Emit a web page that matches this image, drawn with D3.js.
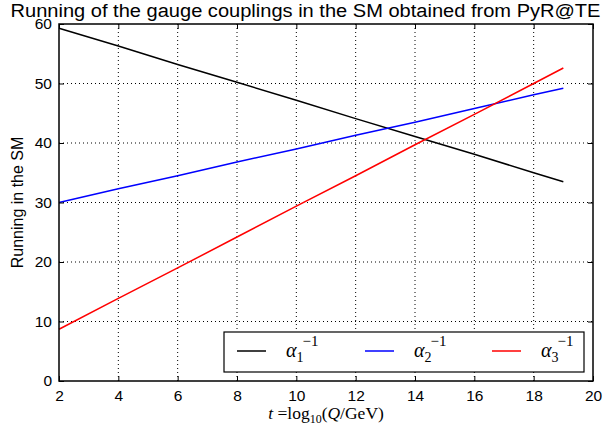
<!DOCTYPE html>
<html>
<head>
<meta charset="utf-8">
<script src="https://cdn.jsdelivr.net/npm/d3@7"></script>
<style>
  html, body { margin: 0; padding: 0; background: #fff; }
  svg { display: block; }
  .tick-label { font-family: "Liberation Sans", Arial, sans-serif; font-size: 15.5px; fill: #000; }
  .math { font-family: "Liberation Serif", "DejaVu Serif", serif; }
</style>
</head>
<body>
<svg id="chart" width="608" height="434"></svg>
<script>
// Scale t = log10(Q/GeV) and inverse gauge couplings
const tValues = [2, 4, 6, 8, 10, 12, 14, 16, 18, 19];
const alpha1Inv = [59.3, 56.3, 53.2, 50.2, 47.2, 44.1, 41.1, 38.1, 35.0, 33.5];
const alpha2Inv = [30.0, 32.3, 34.5, 36.8, 39.0, 41.3, 43.5, 45.8, 48.1, 49.2];
const alpha3Inv = [8.7, 13.9, 19.0, 24.2, 29.4, 34.5, 39.7, 44.8, 50.0, 52.6];

const xTicks = [2, 4, 6, 8, 10, 12, 14, 16, 18, 20];
const yTicks = [0, 10, 20, 30, 40, 50, 60];

const seriesNames = ["1", "2", "3"];
const seriesColors = ["#000000", "#0000ff", "#ff0000"];
const seriesValues = [alpha1Inv, alpha2Inv, alpha3Inv];

const titleText = "Running of the gauge couplings in the SM obtained from PyR@TE";
const yLabelText = "Running in the SM";

const margin = { left: 59, right: 15, top: 24, bottom: 53 };
const W = 608, H = 434;
const svg = d3.select("#chart");

const x = d3.scaleLinear().domain([2, 20]).range([margin.left, W - margin.right]);
const y = d3.scaleLinear().domain([0, 60]).range([H - margin.bottom, margin.top]);

const x0 = x.range()[0], x1 = x.range()[1];
const y0 = y.range()[0], y1 = y.range()[1];

// dotted grid
const grid = svg.append("g");
grid.selectAll("line.gx").data(xTicks.slice(1, -1)).join("line")
  .attr("x1", d => x(d)).attr("x2", d => x(d))
  .attr("y1", y0).attr("y2", y1)
  .attr("stroke", "#000").attr("stroke-width", 1).attr("stroke-dasharray", "1,3");
grid.selectAll("line.gy").data(yTicks.slice(1, -1)).join("line")
  .attr("x1", x0).attr("x2", x1)
  .attr("y1", d => y(d)).attr("y2", d => y(d))
  .attr("stroke", "#000").attr("stroke-width", 1).attr("stroke-dasharray", "1,3");

// data lines
const line = d3.line().x((d, i) => x(tValues[i])).y(d => y(d));
seriesValues.forEach((vals, k) => {
  svg.append("path").datum(vals)
    .attr("d", line)
    .attr("fill", "none")
    .attr("stroke", seriesColors[k])
    .attr("stroke-width", 1.5);
});

// axes with inward ticks on all four sides
const tickLen = 5;
const bottomAxis = d3.axisBottom(x).tickValues(xTicks).tickSizeInner(-tickLen).tickSizeOuter(0).tickPadding(9);
const topAxis = d3.axisTop(x).tickValues(xTicks).tickSizeInner(-tickLen).tickSizeOuter(0).tickFormat("");
const leftAxis = d3.axisLeft(y).tickValues(yTicks).tickSizeInner(-tickLen).tickSizeOuter(0).tickPadding(7);
const rightAxis = d3.axisRight(y).tickValues(yTicks).tickSizeInner(-tickLen).tickSizeOuter(0).tickFormat("");

function styleAxis(g) {
  g.select(".domain").remove();
  g.selectAll(".tick line").attr("stroke", "#000").attr("stroke-width", 1);
  g.selectAll(".tick text").attr("class", "tick-label").attr("fill", "#000");
}
svg.append("g").attr("transform", `translate(0,${y0})`).call(bottomAxis).call(styleAxis);
svg.append("g").attr("transform", `translate(0,${y1})`).call(topAxis).call(styleAxis);
svg.append("g").attr("transform", `translate(${x0},0)`).call(leftAxis).call(styleAxis);
svg.append("g").attr("transform", `translate(${x1},0)`).call(rightAxis).call(styleAxis);

// frame
svg.append("rect")
  .attr("x", x0).attr("y", y1).attr("width", x1 - x0).attr("height", y0 - y1)
  .attr("fill", "none").attr("stroke", "#000").attr("stroke-width", 1.5);

// title
svg.append("text")
  .attr("x", 305.5).attr("y", 17)
  .attr("text-anchor", "middle")
  .attr("font-family", "Liberation Sans, Arial, sans-serif")
  .attr("font-size", 18)
  .attr("textLength", 590)
  .attr("lengthAdjust", "spacingAndGlyphs")
  .text(titleText);

// y label
svg.append("text")
  .attr("transform", `translate(23,${(y0 + y1) / 2}) rotate(-90)`)
  .attr("text-anchor", "middle")
  .attr("font-family", "Liberation Sans, Arial, sans-serif")
  .attr("font-size", 16)
  .text(yLabelText);

// x label: t = log10(Q/GeV)
const xl = svg.append("text")
  .attr("class", "math")
  .attr("x", (x0 + x1) / 2).attr("y", 419)
  .attr("text-anchor", "middle")
  .attr("font-size", 17.5);
xl.append("tspan").attr("font-style", "italic").text("t");
xl.append("tspan").text(" =log");
xl.append("tspan").attr("font-size", 12).attr("dy", 4).text("10");
xl.append("tspan").attr("dy", -4).text("(");
xl.append("tspan").attr("font-style", "italic").text("Q");
xl.append("tspan").text("/GeV)");

// legend
const legend = svg.append("g");
const lgX = 224, lgY = 332, lgW = 360, lgH = 40;
legend.append("rect")
  .attr("x", lgX).attr("y", lgY).attr("width", lgW).attr("height", lgH)
  .attr("fill", "#fff").attr("stroke", "#000").attr("stroke-width", 1.2);
const entryX = [237, 365, 492];
seriesNames.forEach((n, k) => {
  const ex = entryX[k];
  legend.append("line")
    .attr("x1", ex).attr("x2", ex + 29)
    .attr("y1", lgY + 19).attr("y2", lgY + 19)
    .attr("stroke", seriesColors[k]).attr("stroke-width", 1.5);
  const t = legend.append("text").attr("class", "math")
    .attr("x", ex + 49).attr("y", lgY + 25).attr("font-size", 20);
  t.append("tspan").attr("font-style", "italic").text("α");
  t.append("tspan").attr("font-size", 14).attr("dy", 5).text(n);
  t.append("tspan").attr("font-size", 15).attr("dy", -16).attr("dx", -1).text("−1");
});
</script>
</body>
</html>
